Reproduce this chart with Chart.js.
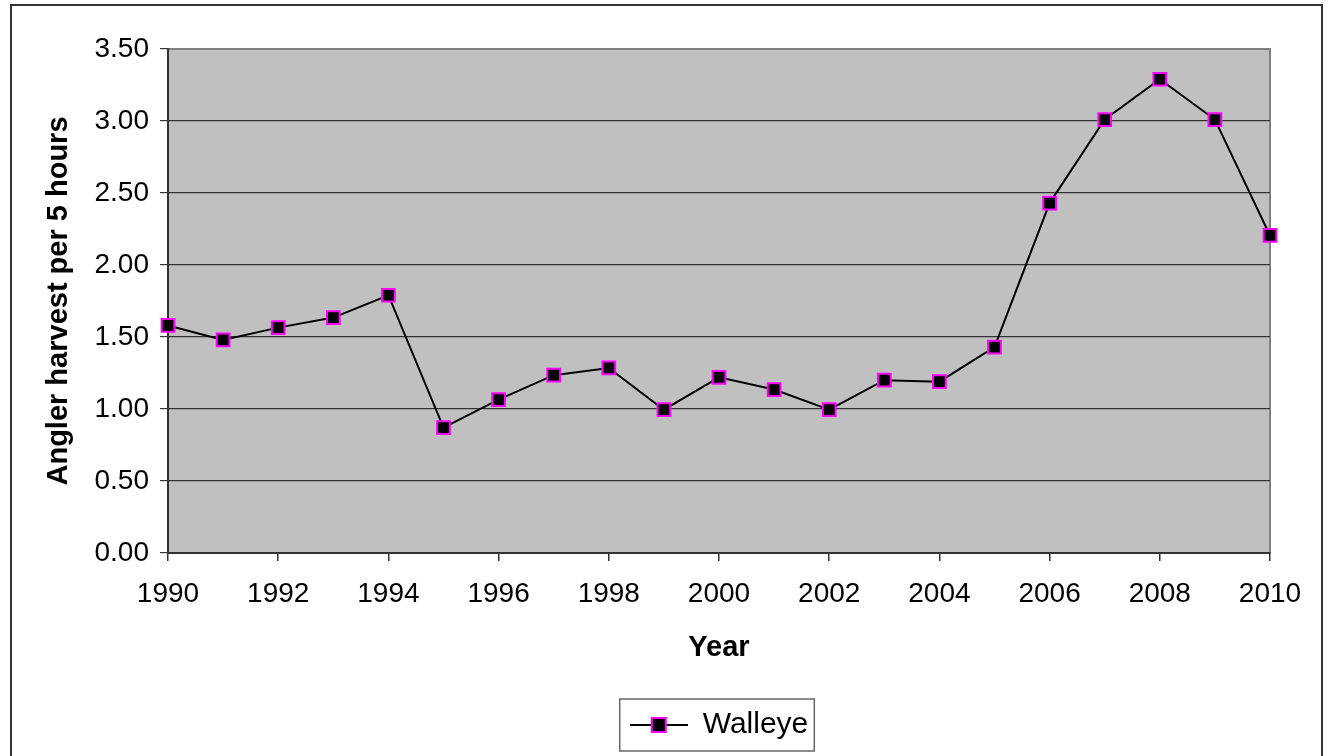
<!DOCTYPE html>
<html>
<head>
<meta charset="utf-8">
<script src="https://cdn.jsdelivr.net/npm/chart.js@4/dist/chart.umd.min.js"></script>
<style>
  html, body { margin: 0; padding: 0; background: #fff; }
  #wrap { width: 1328px; height: 756px; }
</style>
</head>
<body>
<div id="wrap"><canvas id="harvestChart" width="1328" height="756"></canvas></div>
<script>
// values
const years = [1990, 1991, 1992, 1993, 1994, 1995, 1996, 1997, 1998, 1999, 2000,
               2001, 2002, 2003, 2004, 2005, 2006, 2007, 2008, 2009, 2010];
const walleye = [1.58, 1.48, 1.565, 1.635, 1.79, 0.87, 1.065, 1.235, 1.285, 0.995, 1.22,
                 1.135, 0.995, 1.20, 1.19, 1.43, 2.43, 3.01, 3.29, 3.01, 2.205];
const seriesName = 'Walleye';
const xTitle = 'Year';
const yTitle = 'Angler harvest per 5 hours';

const FONT = '"Liberation Sans", Arial, sans-serif';

// little picture for the legend: line with the square marker on it
const legendIcon = document.createElement('canvas');
legendIcon.width = 58;
legendIcon.height = 20;
(function () {
    const c = legendIcon.getContext('2d');
    c.strokeStyle = '#000';
    c.lineWidth = 2;
    c.beginPath();
    c.moveTo(0, 10);
    c.lineTo(58, 10);
    c.stroke();
    c.fillStyle = '#000';
    c.fillRect(22, 3, 14, 14);
    c.strokeStyle = '#ff00ff';
    c.strokeRect(22, 3, 14, 14);
})();

const framePlugin = {
    id: 'frame',
    beforeDraw(chart) {
        const ctx = chart.ctx;
        const a = chart.chartArea;
        ctx.save();
        ctx.fillStyle = '#fff';
        ctx.fillRect(0, 0, chart.width, chart.height);
        ctx.strokeStyle = '#333';
        ctx.lineWidth = 2;
        ctx.strokeRect(11, 5, 1311, 780);
        ctx.fillStyle = '#c0c0c0';
        ctx.fillRect(a.left, a.top, a.right - a.left, a.bottom - a.top);
        ctx.strokeStyle = '#808080';
        ctx.lineWidth = 2;
        ctx.strokeRect(a.left, a.top, a.right - a.left, a.bottom - a.top);
        ctx.restore();
    },
    afterDraw(chart) {
        const boxes = chart.legend && chart.legend.legendHitBoxes;
        if (!boxes || !boxes.length) return;
        const b = boxes[0];
        const ctx = chart.ctx;
        ctx.save();
        ctx.strokeStyle = '#666';
        ctx.lineWidth = 1.5;
        ctx.strokeRect(b.left - 10, b.top - 11, b.width + 16, b.height + 22);
        ctx.restore();
    }
};

const ctx = document.getElementById('harvestChart').getContext('2d');
new Chart(ctx, {
    type: 'line',
    data: {
        datasets: [{
            label: seriesName,
            data: years.map((y, i) => ({ x: y, y: walleye[i] })),
            borderColor: '#000',
            borderWidth: 2,
            pointStyle: 'rect',
            pointRadius: 9,
            pointHoverRadius: 9,
            pointBackgroundColor: '#000',
            pointBorderColor: '#ff00ff',
            pointBorderWidth: 2,
            tension: 0,
            clip: false
        }]
    },
    options: {
        responsive: false,
        animation: false,
        layout: { padding: { left: 0, right: 58, top: 49, bottom: 6 } },
        scales: {
            x: {
                type: 'linear',
                min: 1990,
                max: 2010,
                afterFit: (s) => { s.height = 147; },
                ticks: {
                    stepSize: 2,
                    color: '#000',
                    padding: 16,
                    maxRotation: 0,
                    font: { family: FONT, size: 28 },
                    callback: (v) => String(v)
                },
                grid: {
                    drawOnChartArea: false,
                    drawTicks: true,
                    tickLength: 8,
                    color: '#333',
                    lineWidth: 1.5
                },
                border: { color: '#333', width: 2 },
                title: {
                    display: true,
                    text: xTitle,
                    color: '#000',
                    font: { family: FONT, size: 29, weight: 'bold' },
                    padding: { top: 0, bottom: 35 }
                }
            },
            y: {
                min: 0,
                max: 3.5,
                afterFit: (s) => { s.width = 168; },
                ticks: {
                    stepSize: 0.5,
                    color: '#000',
                    padding: 11,
                    font: { family: FONT, size: 28 },
                    callback: (v) => Number(v).toFixed(2)
                },
                grid: {
                    color: (c) => (c.tick && c.tick.value === 3.5) ? '#808080' : '#333',
                    tickColor: '#333',
                    lineWidth: 1.2,
                    tickLength: 8
                },
                border: { color: '#333', width: 2 },
                title: {
                    display: true,
                    text: yTitle,
                    color: '#000',
                    font: { family: FONT, size: 29, weight: 'bold' },
                    padding: { top: 42, bottom: 0 }
                }
            }
        },
        plugins: {
            legend: {
                display: true,
                position: 'bottom',
                fullSize: false,
                labels: {
                    color: '#000',
                    font: { family: FONT, size: 30 },
                    usePointStyle: true,
                    pointStyleWidth: 58,
                    padding: 10,
                    generateLabels: (chart) => [{
                        text: seriesName,
                        pointStyle: legendIcon,
                        fillStyle: '#000',
                        strokeStyle: '#000',
                        lineWidth: 0,
                        datasetIndex: 0,
                        hidden: false
                    }]
                }
            },
            tooltip: { enabled: false }
        }
    },
    plugins: [framePlugin]
});
</script>
</body>
</html>
